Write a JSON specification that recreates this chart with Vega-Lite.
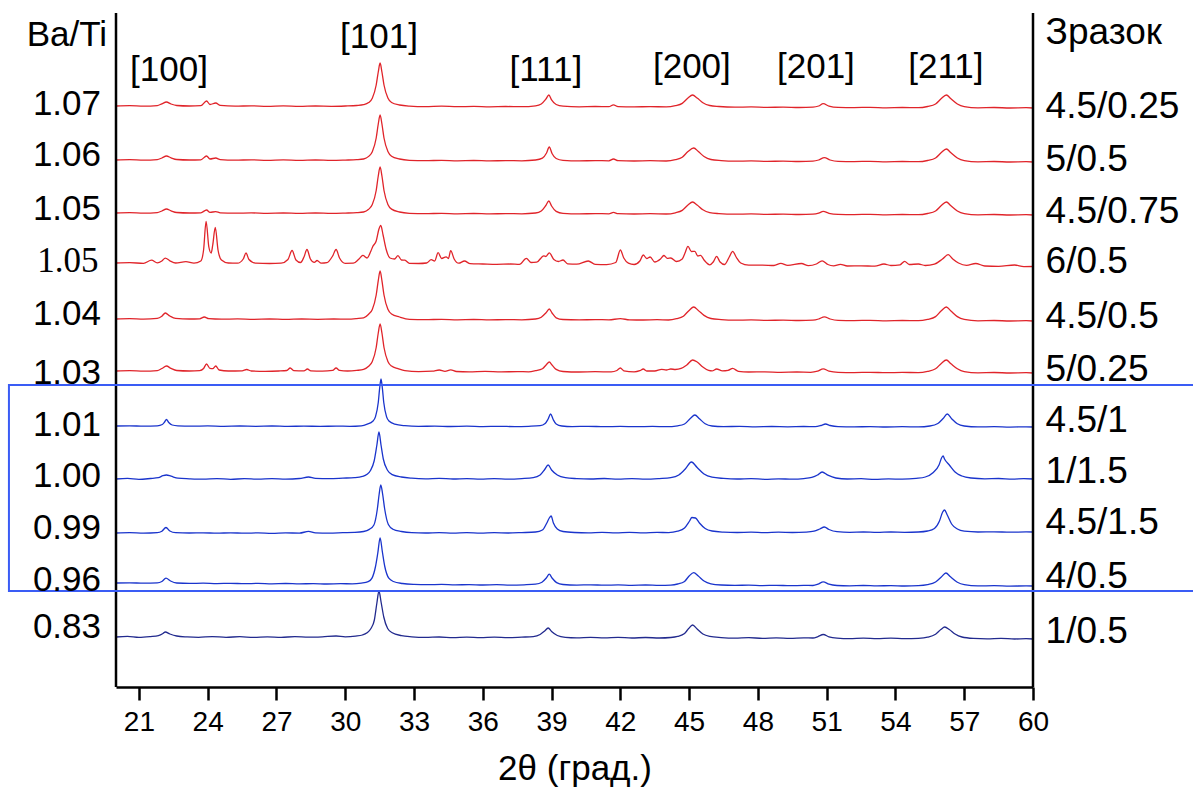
{
"$schema": "https://vega.github.io/schema/vega-lite/v6.json",
"width": 917, "height": 674,
"autosize": {"type": "none"},
"padding": {"left": 116, "top": 13, "right": 160, "bottom": 105},
"background": "white",
"config": {"view": {"stroke": null}, "text": {"font": "Liberation Sans", "color": "black"},
"style": {"guide-label": {"fontSize": 28, "font": "Liberation Sans", "fill": "black"}, "guide-title": {"fontSize": 35, "font": "Liberation Sans", "fill": "black", "fontWeight": "normal"}},
"axisX": {"tickWidth": 2.5, "tickColor": "black", "domainColor": "black", "domainWidth": 2.5, "labelFont": "Liberation Sans", "labelFontSize": 28, "labelColor": "black", "labelPadding": 8, "labelFlush": false, "labelOverlap": false, "grid": false, "titleFont": "Liberation Sans", "titleFontSize": 35, "titleFontWeight": "normal", "titleColor": "black", "titlePadding": 15}},
"datasets": {
"xrd": [
{"s":"a","x":20.0,"y":581},{"s":"a","x":20.6,"y":581.3},{"s":"a","x":21.2,"y":580.8},{"s":"a","x":21.8,"y":581.4},{"s":"a","x":22.0,"y":583.2},{"s":"a","x":22.2,"y":585},{"s":"a","x":22.4,"y":583},{"s":"a","x":22.65,"y":581.5},{"s":"a","x":23.2,"y":581},{"s":"a","x":23.7,"y":581.3},{"s":"a","x":23.95,"y":586},{"s":"a","x":24.1,"y":582.5},{"s":"a","x":24.35,"y":584},{"s":"a","x":24.55,"y":581.6},{"s":"a","x":25.2,"y":580.8},{"s":"a","x":25.9,"y":581.2},{"s":"a","x":26.6,"y":580.7},{"s":"a","x":27.3,"y":581.1},{"s":"a","x":28.0,"y":580.6},{"s":"a","x":28.7,"y":581},{"s":"a","x":29.4,"y":580.7},{"s":"a","x":30.0,"y":581},{"s":"a","x":30.5,"y":581.5},{"s":"a","x":30.8,"y":582.3},{"s":"a","x":31.02,"y":584.4},{"s":"a","x":31.18,"y":588.8},{"s":"a","x":31.35,"y":602},{"s":"a","x":31.44,"y":615},{"s":"a","x":31.52,"y":624},{"s":"a","x":31.6,"y":615},{"s":"a","x":31.69,"y":602},{"s":"a","x":31.86,"y":589},{"s":"a","x":32.02,"y":584.5},{"s":"a","x":32.37,"y":582},{"s":"a","x":32.8,"y":580.9},{"s":"a","x":33.5,"y":580.4},{"s":"a","x":34.2,"y":580.8},{"s":"a","x":34.9,"y":580.3},{"s":"a","x":35.6,"y":580.6},{"s":"a","x":36.3,"y":580.2},{"s":"a","x":37.0,"y":580.5},{"s":"a","x":37.7,"y":580.3},{"s":"a","x":38.3,"y":581.2},{"s":"a","x":38.55,"y":583},{"s":"a","x":38.75,"y":587.8},{"s":"a","x":38.88,"y":592},{"s":"a","x":39.0,"y":587.2},{"s":"a","x":39.2,"y":582.5},{"s":"a","x":39.5,"y":580.8},{"s":"a","x":40.2,"y":580.2},{"s":"a","x":40.9,"y":580.5},{"s":"a","x":41.5,"y":580.3},{"s":"a","x":41.7,"y":582.2},{"s":"a","x":41.9,"y":580.4},{"s":"a","x":42.6,"y":580.1},{"s":"a","x":43.3,"y":580.4},{"s":"a","x":44.0,"y":580.1},{"s":"a","x":44.4,"y":581.3},{"s":"a","x":44.7,"y":583.6},{"s":"a","x":44.95,"y":589},{"s":"a","x":45.15,"y":592},{"s":"a","x":45.35,"y":589},{"s":"a","x":45.6,"y":584.3},{"s":"a","x":45.9,"y":581.5},{"s":"a","x":46.3,"y":580.5},{"s":"a","x":47.0,"y":579.8},{"s":"a","x":47.7,"y":580.1},{"s":"a","x":48.4,"y":579.6},{"s":"a","x":49.1,"y":579.9},{"s":"a","x":49.8,"y":579.5},{"s":"a","x":50.4,"y":579.8},{"s":"a","x":50.65,"y":581},{"s":"a","x":50.85,"y":583.3},{"s":"a","x":51.1,"y":580.9},{"s":"a","x":51.5,"y":579.6},{"s":"a","x":52.2,"y":579.4},{"s":"a","x":52.9,"y":579.7},{"s":"a","x":53.6,"y":579.2},{"s":"a","x":54.3,"y":579.5},{"s":"a","x":55.0,"y":579.3},{"s":"a","x":55.4,"y":580.5},{"s":"a","x":55.75,"y":583},{"s":"a","x":56.0,"y":588.4},{"s":"a","x":56.22,"y":592},{"s":"a","x":56.42,"y":588.2},{"s":"a","x":56.7,"y":583},{"s":"a","x":57.0,"y":580.4},{"s":"a","x":57.6,"y":579.2},{"s":"a","x":58.3,"y":579.5},{"s":"a","x":59.0,"y":579},{"s":"a","x":59.7,"y":579.3},{"s":"a","x":60.0,"y":579},
{"s":"b","x":20.0,"y":527},{"s":"b","x":20.6,"y":527.3},{"s":"b","x":21.2,"y":526.8},{"s":"b","x":21.8,"y":527.4},{"s":"b","x":22.0,"y":529},{"s":"b","x":22.2,"y":531},{"s":"b","x":22.4,"y":529.2},{"s":"b","x":22.65,"y":527.5},{"s":"b","x":23.2,"y":527},{"s":"b","x":23.7,"y":527.2},{"s":"b","x":23.95,"y":531},{"s":"b","x":24.1,"y":528},{"s":"b","x":24.35,"y":529},{"s":"b","x":24.55,"y":527.4},{"s":"b","x":25.2,"y":526.8},{"s":"b","x":25.9,"y":527.2},{"s":"b","x":26.6,"y":526.7},{"s":"b","x":27.3,"y":527.1},{"s":"b","x":28.0,"y":526.6},{"s":"b","x":28.7,"y":527},{"s":"b","x":29.4,"y":526.6},{"s":"b","x":30.0,"y":526.9},{"s":"b","x":30.5,"y":527.3},{"s":"b","x":30.8,"y":528},{"s":"b","x":31.02,"y":530.6},{"s":"b","x":31.18,"y":535.2},{"s":"b","x":31.35,"y":549},{"s":"b","x":31.44,"y":563},{"s":"b","x":31.52,"y":572},{"s":"b","x":31.6,"y":563},{"s":"b","x":31.69,"y":549},{"s":"b","x":31.86,"y":535.5},{"s":"b","x":32.02,"y":530.8},{"s":"b","x":32.37,"y":528},{"s":"b","x":32.8,"y":526.7},{"s":"b","x":33.5,"y":526.3},{"s":"b","x":34.2,"y":526.7},{"s":"b","x":34.9,"y":526.2},{"s":"b","x":35.6,"y":526.5},{"s":"b","x":36.3,"y":526.1},{"s":"b","x":37.0,"y":526.4},{"s":"b","x":37.7,"y":526.2},{"s":"b","x":38.3,"y":527},{"s":"b","x":38.6,"y":528.8},{"s":"b","x":38.78,"y":534},{"s":"b","x":38.9,"y":540},{"s":"b","x":39.02,"y":533.5},{"s":"b","x":39.2,"y":528.5},{"s":"b","x":39.5,"y":526.6},{"s":"b","x":40.2,"y":526.1},{"s":"b","x":40.9,"y":526.4},{"s":"b","x":41.5,"y":526.2},{"s":"b","x":41.7,"y":528},{"s":"b","x":41.9,"y":526.3},{"s":"b","x":42.6,"y":526},{"s":"b","x":43.3,"y":526.3},{"s":"b","x":44.0,"y":526},{"s":"b","x":44.4,"y":527.3},{"s":"b","x":44.7,"y":529.8},{"s":"b","x":44.95,"y":535.5},{"s":"b","x":45.2,"y":539},{"s":"b","x":45.4,"y":535.5},{"s":"b","x":45.65,"y":530.5},{"s":"b","x":45.95,"y":527.5},{"s":"b","x":46.4,"y":526.4},{"s":"b","x":47.0,"y":525.8},{"s":"b","x":47.7,"y":526.1},{"s":"b","x":48.4,"y":525.6},{"s":"b","x":49.1,"y":525.9},{"s":"b","x":49.8,"y":525.5},{"s":"b","x":50.4,"y":525.8},{"s":"b","x":50.65,"y":527},{"s":"b","x":50.9,"y":529.4},{"s":"b","x":51.15,"y":527},{"s":"b","x":51.5,"y":525.6},{"s":"b","x":52.2,"y":525.4},{"s":"b","x":52.9,"y":525.7},{"s":"b","x":53.6,"y":525.2},{"s":"b","x":54.3,"y":525.5},{"s":"b","x":55.0,"y":525.3},{"s":"b","x":55.4,"y":526.5},{"s":"b","x":55.75,"y":529},{"s":"b","x":56.0,"y":534.4},{"s":"b","x":56.22,"y":538},{"s":"b","x":56.42,"y":534.2},{"s":"b","x":56.7,"y":529},{"s":"b","x":57.0,"y":526.4},{"s":"b","x":57.6,"y":525.2},{"s":"b","x":58.3,"y":525.5},{"s":"b","x":59.0,"y":525},{"s":"b","x":59.7,"y":525.3},{"s":"b","x":60.0,"y":525},
{"s":"c","x":20.0,"y":474},{"s":"c","x":20.6,"y":474.3},{"s":"c","x":21.2,"y":473.8},{"s":"c","x":21.8,"y":474.4},{"s":"c","x":22.0,"y":476},{"s":"c","x":22.2,"y":478},{"s":"c","x":22.4,"y":476.2},{"s":"c","x":22.65,"y":474.5},{"s":"c","x":23.2,"y":474},{"s":"c","x":23.7,"y":474.2},{"s":"c","x":23.95,"y":477},{"s":"c","x":24.1,"y":474.6},{"s":"c","x":24.35,"y":475.4},{"s":"c","x":24.55,"y":474.2},{"s":"c","x":25.2,"y":473.8},{"s":"c","x":25.9,"y":474.1},{"s":"c","x":26.6,"y":473.7},{"s":"c","x":27.3,"y":474},{"s":"c","x":28.0,"y":473.6},{"s":"c","x":28.7,"y":474},{"s":"c","x":29.4,"y":473.6},{"s":"c","x":30.0,"y":473.9},{"s":"c","x":30.5,"y":474.3},{"s":"c","x":30.8,"y":475},{"s":"c","x":31.02,"y":477.7},{"s":"c","x":31.18,"y":482.4},{"s":"c","x":31.35,"y":496.5},{"s":"c","x":31.44,"y":511},{"s":"c","x":31.52,"y":520},{"s":"c","x":31.6,"y":511},{"s":"c","x":31.69,"y":496.5},{"s":"c","x":31.86,"y":482.6},{"s":"c","x":32.02,"y":477.9},{"s":"c","x":32.37,"y":475},{"s":"c","x":32.8,"y":473.7},{"s":"c","x":33.5,"y":473.3},{"s":"c","x":34.2,"y":473.7},{"s":"c","x":34.9,"y":473.2},{"s":"c","x":35.6,"y":473.5},{"s":"c","x":36.3,"y":473.1},{"s":"c","x":37.0,"y":473.4},{"s":"c","x":37.7,"y":473.2},{"s":"c","x":38.3,"y":474},{"s":"c","x":38.55,"y":476},{"s":"c","x":38.75,"y":481.5},{"s":"c","x":38.88,"y":486},{"s":"c","x":39.0,"y":481},{"s":"c","x":39.2,"y":475.6},{"s":"c","x":39.5,"y":473.6},{"s":"c","x":40.2,"y":473.1},{"s":"c","x":40.9,"y":473.4},{"s":"c","x":41.5,"y":473.2},{"s":"c","x":41.7,"y":474.6},{"s":"c","x":41.9,"y":473.3},{"s":"c","x":42.6,"y":473},{"s":"c","x":43.3,"y":473.3},{"s":"c","x":44.0,"y":473},{"s":"c","x":44.4,"y":474.2},{"s":"c","x":44.7,"y":476.6},{"s":"c","x":44.95,"y":482},{"s":"c","x":45.15,"y":485},{"s":"c","x":45.35,"y":482},{"s":"c","x":45.6,"y":477.2},{"s":"c","x":45.9,"y":474.4},{"s":"c","x":46.3,"y":473.4},{"s":"c","x":47.0,"y":472.8},{"s":"c","x":47.7,"y":473.1},{"s":"c","x":48.4,"y":472.6},{"s":"c","x":49.1,"y":472.9},{"s":"c","x":49.8,"y":472.5},{"s":"c","x":50.4,"y":472.8},{"s":"c","x":50.65,"y":473.8},{"s":"c","x":50.85,"y":475.6},{"s":"c","x":51.1,"y":473.7},{"s":"c","x":51.5,"y":472.6},{"s":"c","x":52.2,"y":472.4},{"s":"c","x":52.9,"y":472.7},{"s":"c","x":53.6,"y":472.2},{"s":"c","x":54.3,"y":472.5},{"s":"c","x":55.0,"y":472.3},{"s":"c","x":55.4,"y":473.5},{"s":"c","x":55.75,"y":476},{"s":"c","x":56.0,"y":481.4},{"s":"c","x":56.22,"y":485},{"s":"c","x":56.42,"y":481.2},{"s":"c","x":56.7,"y":476},{"s":"c","x":57.0,"y":473.4},{"s":"c","x":57.6,"y":472.2},{"s":"c","x":58.3,"y":472.5},{"s":"c","x":59.0,"y":472},{"s":"c","x":59.7,"y":472.3},{"s":"c","x":60.0,"y":472},
{"s":"d","x":20.0,"y":424},{"s":"d","x":20.6,"y":424.3},{"s":"d","x":21.2,"y":423.7},{"s":"d","x":21.55,"y":426.8},{"s":"d","x":21.8,"y":424.2},{"s":"d","x":22.0,"y":426},{"s":"d","x":22.15,"y":428.9},{"s":"d","x":22.35,"y":426.2},{"s":"d","x":22.6,"y":424},{"s":"d","x":23.05,"y":425.3},{"s":"d","x":23.4,"y":423.9},{"s":"d","x":23.7,"y":426},{"s":"d","x":23.82,"y":437},{"s":"d","x":23.93,"y":465.5},{"s":"d","x":24.05,"y":440},{"s":"d","x":24.15,"y":434},{"s":"d","x":24.22,"y":442},{"s":"d","x":24.33,"y":459.5},{"s":"d","x":24.45,"y":437},{"s":"d","x":24.6,"y":427},{"s":"d","x":24.9,"y":424},{"s":"d","x":25.3,"y":423.8},{"s":"d","x":25.55,"y":428},{"s":"d","x":25.67,"y":434},{"s":"d","x":25.8,"y":427.5},{"s":"d","x":26.1,"y":423.8},{"s":"d","x":26.7,"y":423.5},{"s":"d","x":27.2,"y":423.8},{"s":"d","x":27.5,"y":427.5},{"s":"d","x":27.68,"y":436.5},{"s":"d","x":27.85,"y":427},{"s":"d","x":28.05,"y":424.5},{"s":"d","x":28.2,"y":430},{"s":"d","x":28.33,"y":437.5},{"s":"d","x":28.48,"y":428},{"s":"d","x":28.65,"y":424.6},{"s":"d","x":28.77,"y":426.5},{"s":"d","x":28.95,"y":423.8},{"s":"d","x":29.2,"y":424.3},{"s":"d","x":29.45,"y":431},{"s":"d","x":29.6,"y":437.5},{"s":"d","x":29.75,"y":429},{"s":"d","x":30.0,"y":423.7},{"s":"d","x":30.35,"y":423.8},{"s":"d","x":30.6,"y":428},{"s":"d","x":30.77,"y":431.6},{"s":"d","x":30.95,"y":429},{"s":"d","x":31.12,"y":436},{"s":"d","x":31.2,"y":440.5},{"s":"d","x":31.35,"y":446},{"s":"d","x":31.47,"y":458},{"s":"d","x":31.55,"y":461.6},{"s":"d","x":31.65,"y":452},{"s":"d","x":31.78,"y":438},{"s":"d","x":31.95,"y":429},{"s":"d","x":32.15,"y":428},{"s":"d","x":32.3,"y":431.4},{"s":"d","x":32.45,"y":427},{"s":"d","x":32.6,"y":426.8},{"s":"d","x":32.8,"y":423.6},{"s":"d","x":33.2,"y":423.5},{"s":"d","x":33.55,"y":424},{"s":"d","x":33.75,"y":427.3},{"s":"d","x":33.9,"y":426},{"s":"d","x":34.05,"y":434.3},{"s":"d","x":34.2,"y":428.5},{"s":"d","x":34.4,"y":430.2},{"s":"d","x":34.5,"y":428.5},{"s":"d","x":34.6,"y":436.3},{"s":"d","x":34.75,"y":428},{"s":"d","x":34.95,"y":423.8},{"s":"d","x":35.2,"y":426},{"s":"d","x":35.45,"y":423.3},{"s":"d","x":36.0,"y":423},{"s":"d","x":36.6,"y":422.7},{"s":"d","x":37.2,"y":423},{"s":"d","x":37.6,"y":422.6},{"s":"d","x":37.9,"y":428.6},{"s":"d","x":38.1,"y":424.5},{"s":"d","x":38.35,"y":424.8},{"s":"d","x":38.66,"y":431.2},{"s":"d","x":38.75,"y":430.5},{"s":"d","x":38.9,"y":434.1},{"s":"d","x":39.1,"y":427.5},{"s":"d","x":39.3,"y":425.5},{"s":"d","x":39.5,"y":427},{"s":"d","x":39.7,"y":423.2},{"s":"d","x":40.1,"y":422.8},{"s":"d","x":40.6,"y":426},{"s":"d","x":40.9,"y":422.7},{"s":"d","x":41.4,"y":422.4},{"s":"d","x":41.8,"y":424.5},{"s":"d","x":42.0,"y":437},{"s":"d","x":42.15,"y":429},{"s":"d","x":42.35,"y":423.8},{"s":"d","x":42.6,"y":422.5},{"s":"d","x":42.85,"y":426},{"s":"d","x":43.0,"y":432},{"s":"d","x":43.15,"y":428.5},{"s":"d","x":43.3,"y":430},{"s":"d","x":43.5,"y":425},{"s":"d","x":43.75,"y":428},{"s":"d","x":43.9,"y":431.5},{"s":"d","x":44.05,"y":428.6},{"s":"d","x":44.2,"y":429},{"s":"d","x":44.45,"y":425.5},{"s":"d","x":44.7,"y":428},{"s":"d","x":44.82,"y":434},{"s":"d","x":44.95,"y":440.6},{"s":"d","x":45.1,"y":435.5},{"s":"d","x":45.25,"y":435.6},{"s":"d","x":45.38,"y":431},{"s":"d","x":45.5,"y":431.7},{"s":"d","x":45.65,"y":427},{"s":"d","x":45.9,"y":422.2},{"s":"d","x":46.05,"y":425},{"s":"d","x":46.2,"y":430.6},{"s":"d","x":46.35,"y":425},{"s":"d","x":46.55,"y":422.5},{"s":"d","x":46.75,"y":430},{"s":"d","x":46.9,"y":435.6},{"s":"d","x":47.05,"y":430},{"s":"d","x":47.25,"y":424},{"s":"d","x":47.6,"y":421.8},{"s":"d","x":48.2,"y":421.9},{"s":"d","x":48.7,"y":421.5},{"s":"d","x":49.0,"y":423.6},{"s":"d","x":49.3,"y":421.6},{"s":"d","x":49.9,"y":423.5},{"s":"d","x":50.2,"y":421.3},{"s":"d","x":50.55,"y":423},{"s":"d","x":50.8,"y":426.2},{"s":"d","x":51.05,"y":422.5},{"s":"d","x":51.3,"y":421.2},{"s":"d","x":51.6,"y":422.7},{"s":"d","x":51.9,"y":421},{"s":"d","x":52.5,"y":421.2},{"s":"d","x":53.1,"y":420.8},{"s":"d","x":53.5,"y":423},{"s":"d","x":53.8,"y":421.5},{"s":"d","x":54.2,"y":422.2},{"s":"d","x":54.4,"y":425.7},{"s":"d","x":54.6,"y":422.5},{"s":"d","x":55.0,"y":423},{"s":"d","x":55.3,"y":421.5},{"s":"d","x":55.7,"y":422.8},{"s":"d","x":56.05,"y":428},{"s":"d","x":56.3,"y":432.3},{"s":"d","x":56.5,"y":428},{"s":"d","x":56.75,"y":424},{"s":"d","x":57.1,"y":421.6},{"s":"d","x":57.5,"y":423.5},{"s":"d","x":57.9,"y":421},{"s":"d","x":58.5,"y":420.6},{"s":"d","x":59.2,"y":422},{"s":"d","x":59.6,"y":420.4},{"s":"d","x":60.0,"y":420.5},
{"s":"e","x":20.0,"y":368},{"s":"e","x":20.6,"y":368.3},{"s":"e","x":21.2,"y":367.8},{"s":"e","x":21.8,"y":368.6},{"s":"e","x":22.0,"y":370.8},{"s":"e","x":22.15,"y":374},{"s":"e","x":22.35,"y":371},{"s":"e","x":22.6,"y":368.6},{"s":"e","x":23.2,"y":368},{"s":"e","x":23.65,"y":368.2},{"s":"e","x":23.85,"y":370},{"s":"e","x":24.05,"y":368.3},{"s":"e","x":24.6,"y":367.8},{"s":"e","x":25.3,"y":368.1},{"s":"e","x":26.0,"y":367.7},{"s":"e","x":26.7,"y":368},{"s":"e","x":27.4,"y":367.6},{"s":"e","x":28.1,"y":368},{"s":"e","x":28.8,"y":367.7},{"s":"e","x":29.5,"y":368},{"s":"e","x":30.1,"y":367.8},{"s":"e","x":30.5,"y":368.4},{"s":"e","x":30.8,"y":369.2},{"s":"e","x":31.02,"y":372.8},{"s":"e","x":31.18,"y":377.6},{"s":"e","x":31.35,"y":392},{"s":"e","x":31.44,"y":406.4},{"s":"e","x":31.52,"y":416},{"s":"e","x":31.6,"y":406.4},{"s":"e","x":31.69,"y":392},{"s":"e","x":31.86,"y":377.8},{"s":"e","x":32.02,"y":373},{"s":"e","x":32.37,"y":370},{"s":"e","x":32.8,"y":367.7},{"s":"e","x":33.5,"y":367.3},{"s":"e","x":34.2,"y":367.7},{"s":"e","x":34.9,"y":367.2},{"s":"e","x":35.6,"y":367.5},{"s":"e","x":36.3,"y":367.1},{"s":"e","x":37.0,"y":367.4},{"s":"e","x":37.7,"y":367.2},{"s":"e","x":38.3,"y":368},{"s":"e","x":38.55,"y":369.8},{"s":"e","x":38.75,"y":374},{"s":"e","x":38.9,"y":378},{"s":"e","x":39.02,"y":374},{"s":"e","x":39.2,"y":369.2},{"s":"e","x":39.5,"y":367.5},{"s":"e","x":40.2,"y":367.1},{"s":"e","x":40.9,"y":367.4},{"s":"e","x":41.5,"y":367.2},{"s":"e","x":42.0,"y":368.3},{"s":"e","x":42.4,"y":367.2},{"s":"e","x":43.0,"y":367},{"s":"e","x":43.6,"y":367.3},{"s":"e","x":44.1,"y":367},{"s":"e","x":44.45,"y":368.3},{"s":"e","x":44.75,"y":370.8},{"s":"e","x":45.0,"y":376.6},{"s":"e","x":45.2,"y":380},{"s":"e","x":45.4,"y":376.6},{"s":"e","x":45.65,"y":371.6},{"s":"e","x":45.95,"y":368.5},{"s":"e","x":46.4,"y":367.4},{"s":"e","x":47.0,"y":366.8},{"s":"e","x":47.7,"y":367.1},{"s":"e","x":48.4,"y":366.6},{"s":"e","x":49.1,"y":366.9},{"s":"e","x":49.8,"y":366.5},{"s":"e","x":50.4,"y":366.8},{"s":"e","x":50.65,"y":368},{"s":"e","x":50.9,"y":370.2},{"s":"e","x":51.15,"y":368},{"s":"e","x":51.5,"y":366.6},{"s":"e","x":52.2,"y":366.4},{"s":"e","x":52.9,"y":366.7},{"s":"e","x":53.6,"y":366.2},{"s":"e","x":54.3,"y":366.5},{"s":"e","x":55.0,"y":366.3},{"s":"e","x":55.4,"y":367.6},{"s":"e","x":55.75,"y":370.4},{"s":"e","x":56.0,"y":376.2},{"s":"e","x":56.22,"y":380},{"s":"e","x":56.42,"y":376},{"s":"e","x":56.7,"y":370.4},{"s":"e","x":57.0,"y":367.6},{"s":"e","x":57.6,"y":366.2},{"s":"e","x":58.3,"y":366.5},{"s":"e","x":59.0,"y":366},{"s":"e","x":59.7,"y":366.3},{"s":"e","x":60.0,"y":366},
{"s":"f","x":20.0,"y":316},{"s":"f","x":20.6,"y":316.3},{"s":"f","x":21.2,"y":315.8},{"s":"f","x":21.8,"y":316.4},{"s":"f","x":22.0,"y":318.5},{"s":"f","x":22.2,"y":321},{"s":"f","x":22.4,"y":318.6},{"s":"f","x":22.65,"y":316.5},{"s":"f","x":23.2,"y":316},{"s":"f","x":23.65,"y":316.4},{"s":"f","x":23.82,"y":318.5},{"s":"f","x":23.95,"y":323},{"s":"f","x":24.1,"y":318.6},{"s":"f","x":24.22,"y":318.4},{"s":"f","x":24.35,"y":321},{"s":"f","x":24.5,"y":317},{"s":"f","x":24.9,"y":316},{"s":"f","x":25.5,"y":316.2},{"s":"f","x":25.7,"y":317.5},{"s":"f","x":25.9,"y":316},{"s":"f","x":26.5,"y":315.7},{"s":"f","x":27.1,"y":316},{"s":"f","x":27.45,"y":316.5},{"s":"f","x":27.6,"y":319},{"s":"f","x":27.75,"y":316.4},{"s":"f","x":28.2,"y":316.2},{"s":"f","x":28.35,"y":318},{"s":"f","x":28.5,"y":316.2},{"s":"f","x":29.0,"y":315.9},{"s":"f","x":29.45,"y":316.6},{"s":"f","x":29.6,"y":319},{"s":"f","x":29.75,"y":316.6},{"s":"f","x":30.1,"y":316},{"s":"f","x":30.5,"y":316.6},{"s":"f","x":30.8,"y":317.6},{"s":"f","x":31.02,"y":320.7},{"s":"f","x":31.18,"y":325.4},{"s":"f","x":31.35,"y":339.5},{"s":"f","x":31.44,"y":354},{"s":"f","x":31.52,"y":363},{"s":"f","x":31.6,"y":354},{"s":"f","x":31.69,"y":339.5},{"s":"f","x":31.86,"y":325.6},{"s":"f","x":32.02,"y":320.9},{"s":"f","x":32.3,"y":318.4},{"s":"f","x":32.6,"y":316.3},{"s":"f","x":33.2,"y":315.4},{"s":"f","x":33.8,"y":315.8},{"s":"f","x":34.1,"y":317},{"s":"f","x":34.35,"y":315.7},{"s":"f","x":34.6,"y":317.2},{"s":"f","x":34.85,"y":315.5},{"s":"f","x":35.4,"y":315.2},{"s":"f","x":36.1,"y":315.6},{"s":"f","x":36.8,"y":315.1},{"s":"f","x":37.5,"y":315.4},{"s":"f","x":38.0,"y":315.2},{"s":"f","x":38.3,"y":316.3},{"s":"f","x":38.6,"y":318.2},{"s":"f","x":38.78,"y":322.5},{"s":"f","x":38.9,"y":325},{"s":"f","x":39.02,"y":322},{"s":"f","x":39.2,"y":317.6},{"s":"f","x":39.5,"y":315.5},{"s":"f","x":40.2,"y":315},{"s":"f","x":40.9,"y":315.3},{"s":"f","x":41.6,"y":315.1},{"s":"f","x":41.85,"y":316.5},{"s":"f","x":42.0,"y":319},{"s":"f","x":42.15,"y":316.2},{"s":"f","x":42.6,"y":315.1},{"s":"f","x":42.85,"y":316.3},{"s":"f","x":43.0,"y":318},{"s":"f","x":43.15,"y":316},{"s":"f","x":43.5,"y":316},{"s":"f","x":43.8,"y":317.6},{"s":"f","x":44.0,"y":317},{"s":"f","x":44.2,"y":318},{"s":"f","x":44.4,"y":317.5},{"s":"f","x":44.65,"y":318.6},{"s":"f","x":44.9,"y":322},{"s":"f","x":45.15,"y":327},{"s":"f","x":45.35,"y":325},{"s":"f","x":45.6,"y":320},{"s":"f","x":45.85,"y":316.6},{"s":"f","x":46.0,"y":316.1},{"s":"f","x":46.2,"y":318},{"s":"f","x":46.45,"y":316.1},{"s":"f","x":46.7,"y":316.6},{"s":"f","x":46.9,"y":318.6},{"s":"f","x":47.15,"y":315.7},{"s":"f","x":47.6,"y":315},{"s":"f","x":48.3,"y":315.2},{"s":"f","x":49.0,"y":314.7},{"s":"f","x":49.7,"y":315},{"s":"f","x":50.3,"y":314.7},{"s":"f","x":50.6,"y":315.8},{"s":"f","x":50.85,"y":318.2},{"s":"f","x":51.1,"y":315.8},{"s":"f","x":51.5,"y":314.6},{"s":"f","x":52.2,"y":314.4},{"s":"f","x":52.9,"y":314.7},{"s":"f","x":53.6,"y":314.3},{"s":"f","x":54.3,"y":314.6},{"s":"f","x":55.0,"y":314.4},{"s":"f","x":55.4,"y":315.6},{"s":"f","x":55.75,"y":318.2},{"s":"f","x":56.0,"y":323.6},{"s":"f","x":56.22,"y":327},{"s":"f","x":56.42,"y":323.2},{"s":"f","x":56.7,"y":318.2},{"s":"f","x":57.0,"y":315.4},{"s":"f","x":57.6,"y":314.2},{"s":"f","x":58.3,"y":314.5},{"s":"f","x":59.0,"y":314},{"s":"f","x":59.7,"y":314.3},{"s":"f","x":60.0,"y":314},
{"s":"g","x":20.0,"y":261},{"s":"g","x":20.6,"y":261.2},{"s":"g","x":21.2,"y":260.8},{"s":"g","x":21.8,"y":261.2},{"s":"g","x":22.02,"y":262.5},{"s":"g","x":22.12,"y":265},{"s":"g","x":22.2,"y":267.5},{"s":"g","x":22.3,"y":264.5},{"s":"g","x":22.45,"y":262},{"s":"g","x":22.7,"y":261.1},{"s":"g","x":23.3,"y":260.8},{"s":"g","x":24.0,"y":261.1},{"s":"g","x":24.7,"y":260.7},{"s":"g","x":25.4,"y":261},{"s":"g","x":26.1,"y":260.7},{"s":"g","x":26.8,"y":261},{"s":"g","x":27.5,"y":260.6},{"s":"g","x":28.2,"y":260.9},{"s":"g","x":28.9,"y":260.6},{"s":"g","x":29.6,"y":260.9},{"s":"g","x":30.2,"y":260.7},{"s":"g","x":30.7,"y":261.2},{"s":"g","x":30.96,"y":262.9},{"s":"g","x":31.2,"y":265.7},{"s":"g","x":31.32,"y":270.4},{"s":"g","x":31.44,"y":284.5},{"s":"g","x":31.5,"y":298.6},{"s":"g","x":31.56,"y":308},{"s":"g","x":31.62,"y":298.6},{"s":"g","x":31.68,"y":284.5},{"s":"g","x":31.8,"y":270.4},{"s":"g","x":31.92,"y":265.7},{"s":"g","x":32.16,"y":262.9},{"s":"g","x":32.6,"y":261.3},{"s":"g","x":33.2,"y":260.6},{"s":"g","x":33.9,"y":260.9},{"s":"g","x":34.6,"y":260.5},{"s":"g","x":35.3,"y":260.8},{"s":"g","x":36.0,"y":260.4},{"s":"g","x":36.7,"y":260.7},{"s":"g","x":37.4,"y":260.4},{"s":"g","x":38.0,"y":260.7},{"s":"g","x":38.5,"y":261.3},{"s":"g","x":38.72,"y":263.5},{"s":"g","x":38.85,"y":268},{"s":"g","x":38.96,"y":273},{"s":"g","x":39.07,"y":267.5},{"s":"g","x":39.2,"y":263},{"s":"g","x":39.45,"y":261},{"s":"g","x":39.9,"y":260.4},{"s":"g","x":40.6,"y":260.7},{"s":"g","x":41.3,"y":260.3},{"s":"g","x":42.0,"y":260.6},{"s":"g","x":42.7,"y":260.3},{"s":"g","x":43.4,"y":260.6},{"s":"g","x":44.0,"y":260.3},{"s":"g","x":44.5,"y":261.2},{"s":"g","x":44.8,"y":263},{"s":"g","x":45.05,"y":268.5},{"s":"g","x":45.25,"y":272},{"s":"g","x":45.45,"y":268.2},{"s":"g","x":45.7,"y":263.3},{"s":"g","x":46.0,"y":261},{"s":"g","x":46.5,"y":260.4},{"s":"g","x":47.2,"y":260.6},{"s":"g","x":47.9,"y":260.2},{"s":"g","x":48.6,"y":260.5},{"s":"g","x":49.3,"y":260.2},{"s":"g","x":50.0,"y":260.5},{"s":"g","x":50.5,"y":260.4},{"s":"g","x":50.75,"y":261.5},{"s":"g","x":50.95,"y":263},{"s":"g","x":51.15,"y":261.5},{"s":"g","x":51.5,"y":260.3},{"s":"g","x":52.2,"y":260.1},{"s":"g","x":52.9,"y":260.4},{"s":"g","x":53.6,"y":260},{"s":"g","x":54.3,"y":260.3},{"s":"g","x":55.0,"y":260.1},{"s":"g","x":55.5,"y":261},{"s":"g","x":55.85,"y":263.5},{"s":"g","x":56.08,"y":268.5},{"s":"g","x":56.26,"y":273},{"s":"g","x":56.45,"y":268.3},{"s":"g","x":56.7,"y":263.2},{"s":"g","x":57.0,"y":261},{"s":"g","x":57.6,"y":260.1},{"s":"g","x":58.3,"y":260.3},{"s":"g","x":59.0,"y":259.9},{"s":"g","x":59.7,"y":260.2},{"s":"g","x":60.0,"y":260},
{"s":"h","x":20.0,"y":208},{"s":"h","x":20.5,"y":208.6},{"s":"h","x":21.0,"y":207.7},{"s":"h","x":21.5,"y":208.5},{"s":"h","x":21.85,"y":209.3},{"s":"h","x":22.05,"y":211.3},{"s":"h","x":22.2,"y":212},{"s":"h","x":22.4,"y":210.8},{"s":"h","x":22.7,"y":208.8},{"s":"h","x":23.2,"y":208.2},{"s":"h","x":23.8,"y":207.8},{"s":"h","x":24.4,"y":208.4},{"s":"h","x":25.0,"y":207.7},{"s":"h","x":25.6,"y":208.3},{"s":"h","x":26.2,"y":207.8},{"s":"h","x":26.8,"y":208.4},{"s":"h","x":27.4,"y":207.9},{"s":"h","x":28.0,"y":208.5},{"s":"h","x":28.4,"y":210},{"s":"h","x":28.7,"y":208.6},{"s":"h","x":29.3,"y":208.4},{"s":"h","x":29.9,"y":208.9},{"s":"h","x":30.4,"y":209.4},{"s":"h","x":30.75,"y":210.6},{"s":"h","x":30.95,"y":212.7},{"s":"h","x":31.1,"y":216.5},{"s":"h","x":31.26,"y":226},{"s":"h","x":31.38,"y":242},{"s":"h","x":31.47,"y":255},{"s":"h","x":31.56,"y":242},{"s":"h","x":31.66,"y":228},{"s":"h","x":31.85,"y":216.5},{"s":"h","x":32.05,"y":212.4},{"s":"h","x":32.45,"y":210},{"s":"h","x":32.9,"y":208.8},{"s":"h","x":33.5,"y":208.2},{"s":"h","x":34.1,"y":208.6},{"s":"h","x":34.7,"y":208},{"s":"h","x":35.3,"y":208.4},{"s":"h","x":35.9,"y":207.8},{"s":"h","x":36.5,"y":208.3},{"s":"h","x":37.1,"y":207.9},{"s":"h","x":37.7,"y":208.4},{"s":"h","x":38.2,"y":209.3},{"s":"h","x":38.5,"y":212},{"s":"h","x":38.7,"y":217.5},{"s":"h","x":38.85,"y":222},{"s":"h","x":39.0,"y":217},{"s":"h","x":39.25,"y":212},{"s":"h","x":39.6,"y":209.3},{"s":"h","x":40.1,"y":208.4},{"s":"h","x":40.7,"y":208},{"s":"h","x":41.3,"y":208.5},{"s":"h","x":41.9,"y":207.9},{"s":"h","x":42.5,"y":208.4},{"s":"h","x":43.1,"y":207.8},{"s":"h","x":43.7,"y":208.4},{"s":"h","x":44.2,"y":209.3},{"s":"h","x":44.55,"y":212},{"s":"h","x":44.85,"y":218.5},{"s":"h","x":45.1,"y":225},{"s":"h","x":45.35,"y":219.5},{"s":"h","x":45.65,"y":213},{"s":"h","x":46.0,"y":209.8},{"s":"h","x":46.5,"y":208.6},{"s":"h","x":47.1,"y":208},{"s":"h","x":47.7,"y":208.4},{"s":"h","x":48.3,"y":207.7},{"s":"h","x":48.9,"y":208.2},{"s":"h","x":49.5,"y":207.8},{"s":"h","x":50.0,"y":208.4},{"s":"h","x":50.35,"y":209.6},{"s":"h","x":50.6,"y":212},{"s":"h","x":50.8,"y":215},{"s":"h","x":51.05,"y":211.8},{"s":"h","x":51.4,"y":209},{"s":"h","x":51.9,"y":208},{"s":"h","x":52.5,"y":208.3},{"s":"h","x":53.1,"y":207.6},{"s":"h","x":53.7,"y":208.1},{"s":"h","x":54.3,"y":207.8},{"s":"h","x":54.9,"y":208.6},{"s":"h","x":55.3,"y":210},{"s":"h","x":55.65,"y":214.5},{"s":"h","x":55.9,"y":222},{"s":"h","x":56.02,"y":229.5},{"s":"h","x":56.08,"y":231},{"s":"h","x":56.14,"y":228},{"s":"h","x":56.35,"y":222},{"s":"h","x":56.6,"y":215},{"s":"h","x":56.9,"y":211},{"s":"h","x":57.3,"y":209},{"s":"h","x":57.9,"y":208.2},{"s":"h","x":58.5,"y":208.5},{"s":"h","x":59.1,"y":207.8},{"s":"h","x":59.6,"y":208.3},{"s":"h","x":60.0,"y":208},
{"s":"i","x":20.0,"y":154},{"s":"i","x":20.6,"y":154.3},{"s":"i","x":21.2,"y":153.8},{"s":"i","x":21.8,"y":154.3},{"s":"i","x":22.0,"y":155.8},{"s":"i","x":22.18,"y":159.5},{"s":"i","x":22.35,"y":156},{"s":"i","x":22.6,"y":154.3},{"s":"i","x":23.2,"y":154},{"s":"i","x":23.8,"y":154.2},{"s":"i","x":24.4,"y":153.8},{"s":"i","x":25.0,"y":154.2},{"s":"i","x":25.6,"y":153.8},{"s":"i","x":26.2,"y":154.1},{"s":"i","x":26.8,"y":153.7},{"s":"i","x":27.4,"y":154.1},{"s":"i","x":28.0,"y":153.9},{"s":"i","x":28.4,"y":155.6},{"s":"i","x":28.7,"y":154.1},{"s":"i","x":29.3,"y":153.9},{"s":"i","x":29.9,"y":154.3},{"s":"i","x":30.4,"y":154.6},{"s":"i","x":30.8,"y":155.5},{"s":"i","x":31.05,"y":157.6},{"s":"i","x":31.25,"y":162},{"s":"i","x":31.4,"y":178},{"s":"i","x":31.48,"y":193},{"s":"i","x":31.55,"y":202},{"s":"i","x":31.63,"y":193},{"s":"i","x":31.72,"y":178},{"s":"i","x":31.88,"y":162.5},{"s":"i","x":32.08,"y":157.8},{"s":"i","x":32.45,"y":155.5},{"s":"i","x":32.9,"y":154.3},{"s":"i","x":33.5,"y":154},{"s":"i","x":34.1,"y":154.4},{"s":"i","x":34.7,"y":153.9},{"s":"i","x":35.3,"y":154.3},{"s":"i","x":35.9,"y":153.9},{"s":"i","x":36.5,"y":154.3},{"s":"i","x":37.1,"y":154},{"s":"i","x":37.7,"y":154.4},{"s":"i","x":38.3,"y":155},{"s":"i","x":38.6,"y":157},{"s":"i","x":38.78,"y":163.5},{"s":"i","x":38.9,"y":169},{"s":"i","x":38.98,"y":171},{"s":"i","x":39.08,"y":164},{"s":"i","x":39.25,"y":158},{"s":"i","x":39.5,"y":155.5},{"s":"i","x":40.0,"y":154.5},{"s":"i","x":40.6,"y":154.2},{"s":"i","x":41.2,"y":154.6},{"s":"i","x":41.8,"y":154.2},{"s":"i","x":42.4,"y":154.6},{"s":"i","x":43.0,"y":154.2},{"s":"i","x":43.6,"y":154.6},{"s":"i","x":44.1,"y":154.4},{"s":"i","x":44.5,"y":155.8},{"s":"i","x":44.8,"y":159},{"s":"i","x":45.02,"y":166},{"s":"i","x":45.12,"y":169.5},{"s":"i","x":45.28,"y":169},{"s":"i","x":45.45,"y":164},{"s":"i","x":45.7,"y":158.5},{"s":"i","x":46.0,"y":156},{"s":"i","x":46.5,"y":154.9},{"s":"i","x":47.1,"y":154.5},{"s":"i","x":47.7,"y":154.8},{"s":"i","x":48.3,"y":154.4},{"s":"i","x":48.9,"y":154.8},{"s":"i","x":49.5,"y":154.5},{"s":"i","x":50.1,"y":154.9},{"s":"i","x":50.45,"y":155.8},{"s":"i","x":50.7,"y":158},{"s":"i","x":50.9,"y":160},{"s":"i","x":51.1,"y":157.5},{"s":"i","x":51.45,"y":155.3},{"s":"i","x":52.0,"y":154.7},{"s":"i","x":52.6,"y":155},{"s":"i","x":53.2,"y":154.6},{"s":"i","x":53.8,"y":155},{"s":"i","x":54.4,"y":154.7},{"s":"i","x":55.0,"y":155},{"s":"i","x":55.4,"y":156},{"s":"i","x":55.7,"y":158.5},{"s":"i","x":55.92,"y":166},{"s":"i","x":56.06,"y":175},{"s":"i","x":56.14,"y":177},{"s":"i","x":56.26,"y":172},{"s":"i","x":56.45,"y":163},{"s":"i","x":56.7,"y":158},{"s":"i","x":57.0,"y":155.8},{"s":"i","x":57.6,"y":155},{"s":"i","x":58.3,"y":155.2},{"s":"i","x":59.0,"y":154.8},{"s":"i","x":59.7,"y":155.1},{"s":"i","x":60.0,"y":155},
{"s":"j","x":20.0,"y":104},{"s":"j","x":20.6,"y":104.2},{"s":"j","x":21.2,"y":103.8},{"s":"j","x":21.8,"y":104.1},{"s":"j","x":22.0,"y":105.5},{"s":"j","x":22.18,"y":108.8},{"s":"j","x":22.38,"y":106},{"s":"j","x":22.65,"y":104},{"s":"j","x":23.2,"y":103.6},{"s":"j","x":23.8,"y":103.8},{"s":"j","x":24.4,"y":103.4},{"s":"j","x":25.0,"y":103.7},{"s":"j","x":25.6,"y":103.3},{"s":"j","x":26.2,"y":103.6},{"s":"j","x":26.8,"y":103.2},{"s":"j","x":27.4,"y":103.5},{"s":"j","x":28.0,"y":103.1},{"s":"j","x":28.6,"y":103.4},{"s":"j","x":29.2,"y":103},{"s":"j","x":29.8,"y":103.3},{"s":"j","x":30.3,"y":103.2},{"s":"j","x":30.7,"y":103.9},{"s":"j","x":31.0,"y":105.3},{"s":"j","x":31.16,"y":108.6},{"s":"j","x":31.32,"y":120.5},{"s":"j","x":31.42,"y":134},{"s":"j","x":31.52,"y":149},{"s":"j","x":31.62,"y":135},{"s":"j","x":31.72,"y":121},{"s":"j","x":31.9,"y":108.8},{"s":"j","x":32.1,"y":105.5},{"s":"j","x":32.5,"y":103.5},{"s":"j","x":33.0,"y":102.6},{"s":"j","x":33.6,"y":102.3},{"s":"j","x":34.2,"y":102.6},{"s":"j","x":34.8,"y":102.1},{"s":"j","x":35.4,"y":102.4},{"s":"j","x":36.0,"y":102},{"s":"j","x":36.6,"y":102.3},{"s":"j","x":37.2,"y":101.9},{"s":"j","x":37.8,"y":102.2},{"s":"j","x":38.3,"y":102.8},{"s":"j","x":38.58,"y":104.8},{"s":"j","x":38.77,"y":109},{"s":"j","x":38.9,"y":112.8},{"s":"j","x":39.02,"y":109},{"s":"j","x":39.22,"y":104.4},{"s":"j","x":39.5,"y":102.5},{"s":"j","x":40.1,"y":101.9},{"s":"j","x":40.7,"y":102.2},{"s":"j","x":41.3,"y":101.8},{"s":"j","x":41.9,"y":102.1},{"s":"j","x":42.5,"y":101.7},{"s":"j","x":43.1,"y":102},{"s":"j","x":43.7,"y":101.6},{"s":"j","x":44.2,"y":101.9},{"s":"j","x":44.5,"y":103},{"s":"j","x":44.8,"y":105.6},{"s":"j","x":45.0,"y":111},{"s":"j","x":45.2,"y":114.4},{"s":"j","x":45.4,"y":111},{"s":"j","x":45.65,"y":106},{"s":"j","x":45.95,"y":103.2},{"s":"j","x":46.4,"y":102},{"s":"j","x":47.0,"y":101.6},{"s":"j","x":47.6,"y":101.9},{"s":"j","x":48.2,"y":101.4},{"s":"j","x":48.8,"y":101.7},{"s":"j","x":49.4,"y":101.3},{"s":"j","x":50.0,"y":101.6},{"s":"j","x":50.4,"y":101.5},{"s":"j","x":50.62,"y":102.8},{"s":"j","x":50.85,"y":105.2},{"s":"j","x":51.1,"y":102.8},{"s":"j","x":51.45,"y":101.5},{"s":"j","x":52.0,"y":101.2},{"s":"j","x":52.6,"y":101.5},{"s":"j","x":53.2,"y":101.1},{"s":"j","x":53.8,"y":101.4},{"s":"j","x":54.4,"y":101},{"s":"j","x":55.0,"y":101.3},{"s":"j","x":55.4,"y":102.3},{"s":"j","x":55.75,"y":105},{"s":"j","x":56.0,"y":110},{"s":"j","x":56.2,"y":114},{"s":"j","x":56.4,"y":110.2},{"s":"j","x":56.7,"y":104.8},{"s":"j","x":57.0,"y":102.3},{"s":"j","x":57.6,"y":101.1},{"s":"j","x":58.3,"y":101.3},{"s":"j","x":59.0,"y":100.9},{"s":"j","x":59.7,"y":101.1},{"s":"j","x":60.0,"y":101},
{"s":"k","x":20.0,"y":50},{"s":"k","x":20.5,"y":50.6},{"s":"k","x":21.0,"y":49.6},{"s":"k","x":21.5,"y":50.4},{"s":"k","x":21.85,"y":51.4},{"s":"k","x":22.05,"y":53.5},{"s":"k","x":22.15,"y":55},{"s":"k","x":22.35,"y":53},{"s":"k","x":22.65,"y":51},{"s":"k","x":23.1,"y":50.1},{"s":"k","x":23.6,"y":49.7},{"s":"k","x":24.2,"y":50.4},{"s":"k","x":24.8,"y":49.7},{"s":"k","x":25.4,"y":50.3},{"s":"k","x":26.0,"y":49.6},{"s":"k","x":26.6,"y":50.2},{"s":"k","x":27.2,"y":49.7},{"s":"k","x":27.8,"y":50.3},{"s":"k","x":28.4,"y":49.8},{"s":"k","x":29.0,"y":50.2},{"s":"k","x":29.6,"y":51},{"s":"k","x":30.0,"y":50.2},{"s":"k","x":30.45,"y":50.9},{"s":"k","x":30.75,"y":52},{"s":"k","x":30.95,"y":54.2},{"s":"k","x":31.12,"y":58.5},{"s":"k","x":31.27,"y":67},{"s":"k","x":31.38,"y":84},{"s":"k","x":31.47,"y":96},{"s":"k","x":31.57,"y":84},{"s":"k","x":31.68,"y":70},{"s":"k","x":31.85,"y":58.5},{"s":"k","x":32.05,"y":54.3},{"s":"k","x":32.45,"y":51.4},{"s":"k","x":32.9,"y":50.2},{"s":"k","x":33.5,"y":49.6},{"s":"k","x":34.1,"y":50},{"s":"k","x":34.7,"y":49.4},{"s":"k","x":35.3,"y":49.9},{"s":"k","x":35.9,"y":49.3},{"s":"k","x":36.5,"y":49.8},{"s":"k","x":37.1,"y":49.4},{"s":"k","x":37.7,"y":49.9},{"s":"k","x":38.2,"y":50.4},{"s":"k","x":38.5,"y":52.5},{"s":"k","x":38.7,"y":56},{"s":"k","x":38.85,"y":59},{"s":"k","x":39.0,"y":55.5},{"s":"k","x":39.25,"y":51.5},{"s":"k","x":39.6,"y":49.7},{"s":"k","x":40.1,"y":49.2},{"s":"k","x":40.7,"y":49.7},{"s":"k","x":41.3,"y":49.1},{"s":"k","x":41.9,"y":49.6},{"s":"k","x":42.5,"y":49},{"s":"k","x":43.1,"y":49.5},{"s":"k","x":43.7,"y":49},{"s":"k","x":44.2,"y":49.5},{"s":"k","x":44.5,"y":50.6},{"s":"k","x":44.8,"y":53.5},{"s":"k","x":44.98,"y":58.5},{"s":"k","x":45.15,"y":62},{"s":"k","x":45.35,"y":58},{"s":"k","x":45.6,"y":53},{"s":"k","x":45.9,"y":50.6},{"s":"k","x":46.4,"y":49.4},{"s":"k","x":47.0,"y":48.8},{"s":"k","x":47.6,"y":49.3},{"s":"k","x":48.2,"y":48.7},{"s":"k","x":48.8,"y":49.2},{"s":"k","x":49.4,"y":48.6},{"s":"k","x":50.0,"y":49.1},{"s":"k","x":50.4,"y":49},{"s":"k","x":50.62,"y":50.4},{"s":"k","x":50.85,"y":52.5},{"s":"k","x":51.1,"y":50.2},{"s":"k","x":51.45,"y":48.9},{"s":"k","x":52.0,"y":48.4},{"s":"k","x":52.6,"y":48.9},{"s":"k","x":53.2,"y":48.3},{"s":"k","x":53.8,"y":48.8},{"s":"k","x":54.4,"y":48.3},{"s":"k","x":55.0,"y":48.7},{"s":"k","x":55.4,"y":49.8},{"s":"k","x":55.75,"y":52.8},{"s":"k","x":55.98,"y":57.5},{"s":"k","x":56.15,"y":60},{"s":"k","x":56.35,"y":57.5},{"s":"k","x":56.6,"y":53},{"s":"k","x":56.9,"y":50},{"s":"k","x":57.4,"y":48.6},{"s":"k","x":58.0,"y":48.2},{"s":"k","x":58.6,"y":48.6},{"s":"k","x":59.2,"y":48},{"s":"k","x":59.7,"y":48.4},{"s":"k","x":60.0,"y":48}
],
"left": [
{"t":"Ba/Ti","y":652},{"t":"1.07","y":583},{"t":"1.06","y":532},{"t":"1.05","y":478},{"t":"1.04","y":373},{"t":"1.03","y":314},{"t":"1.01","y":262},{"t":"1.00","y":211},{"t":"0.99","y":159},{"t":"0.96","y":107},{"t":"0.83","y":60}
],
"serif": [{"t":"1.05","y":426}],
"right": [
{"t":"Зразок","y":654},{"t":"4.5/0.25","y":580},{"t":"5/0.5","y":527},{"t":"4.5/0.75","y":475},{"t":"6/0.5","y":425},{"t":"4.5/0.5","y":370},{"t":"5/0.25","y":317},{"t":"4.5/1","y":266},{"t":"1/1.5","y":215},{"t":"4.5/1.5","y":164},{"t":"4/0.5","y":110},{"t":"1/0.5","y":55}
],
"hkl": [
{"t":"[100]","x":22.31,"y":617},{"t":"[101]","x":31.47,"y":650},{"t":"[111]","x":38.75,"y":617},{"t":"[200]","x":45.12,"y":620},{"t":"[201]","x":50.53,"y":620},{"t":"[211]","x":56.2,"y":620}
],
"one": [{"k": 1}]
},
"layer": [
{
"data": {"name": "xrd"},
"mark": {"type": "line", "strokeWidth": 1.3, "interpolate": "monotone"},
"encoding": {
"x": {"field": "x", "type": "quantitative", "scale": {"domain": [20, 60], "nice": false, "zero": false},
"axis": {"values": [21, 22.5, 24, 25.5, 27, 28.5, 30, 31.5, 33, 34.5, 36, 37.5, 39, 40.5, 42, 43.5, 45, 46.5, 48, 49.5, 51, 52.5, 54, 55.5, 57, 58.5, 60],
"labelExpr": "datum.value % 3 === 0 ? datum.label : ''",
"tickSize": {"condition": {"test": "datum.value % 3 === 0", "value": 13}, "value": 6},
"labelFontSize": 28, "title": "2θ (град.)", "titleFontSize": 35, "titlePadding": 15, "labelPadding": 8,
"encode": {"labels": {"update": {"fontSize": {"value": 28}}}}}},
"y": {"field": "y", "type": "quantitative", "scale": {"domain": [0, 674], "nice": false, "zero": false}, "axis": null},
"color": {"field": "s", "type": "nominal", "legend": null,
"scale": {"domain": ["a","b","c","d","e","f","g","h","i","j","k"], "range": ["#e0242a","#e0242a","#e0242a","#e0242a","#e0242a","#e0242a","#1a34cc","#1a34cc","#1a34cc","#1a34cc","#222a8e"]}}
}
},
{
"data": {"name": "one"},
"mark": {"type": "rule", "color": "black", "strokeWidth": 2.5},
"encoding": {"x": {"datum": 20, "type": "quantitative"}}
},
{
"data": {"name": "one"},
"mark": {"type": "rule", "color": "black", "strokeWidth": 2.5},
"encoding": {"x": {"datum": 60, "type": "quantitative"}}
},
{
"data": {"name": "one"},
"mark": {"type": "rect", "fill": null, "fillOpacity": 0, "stroke": "#3a5cf5", "strokeWidth": 2},
"encoding": {
"x": {"datum": 15.33, "type": "quantitative"},
"x2": {"datum": 67.5},
"y": {"datum": 302, "type": "quantitative"},
"y2": {"datum": 96}
}
},
{
"data": {"name": "left"},
"mark": {"type": "text", "font": "Liberation Sans", "fontSize": 35, "align": "center", "baseline": "middle", "color": "black"},
"encoding": {
"x": {"datum": 17.86, "type": "quantitative"},
"y": {"field": "y", "type": "quantitative"},
"text": {"field": "t"}
}
},
{
"data": {"name": "serif"},
"mark": {"type": "text", "font": "Liberation Serif", "fontSize": 35, "align": "center", "baseline": "middle", "color": "black"},
"encoding": {
"x": {"datum": 17.9, "type": "quantitative"},
"y": {"field": "y", "type": "quantitative"},
"text": {"field": "t"}
}
},
{
"data": {"name": "right"},
"mark": {"type": "text", "font": "Liberation Sans", "fontSize": 37, "align": "left", "baseline": "middle", "color": "black"},
"encoding": {
"x": {"datum": 60.55, "type": "quantitative"},
"y": {"field": "y", "type": "quantitative"},
"text": {"field": "t"}
}
},
{
"data": {"name": "hkl"},
"mark": {"type": "text", "font": "Liberation Sans", "fontSize": 35, "align": "center", "baseline": "middle", "color": "black"},
"encoding": {
"x": {"field": "x", "type": "quantitative"},
"y": {"field": "y", "type": "quantitative"},
"text": {"field": "t"}
}
}
]
}
